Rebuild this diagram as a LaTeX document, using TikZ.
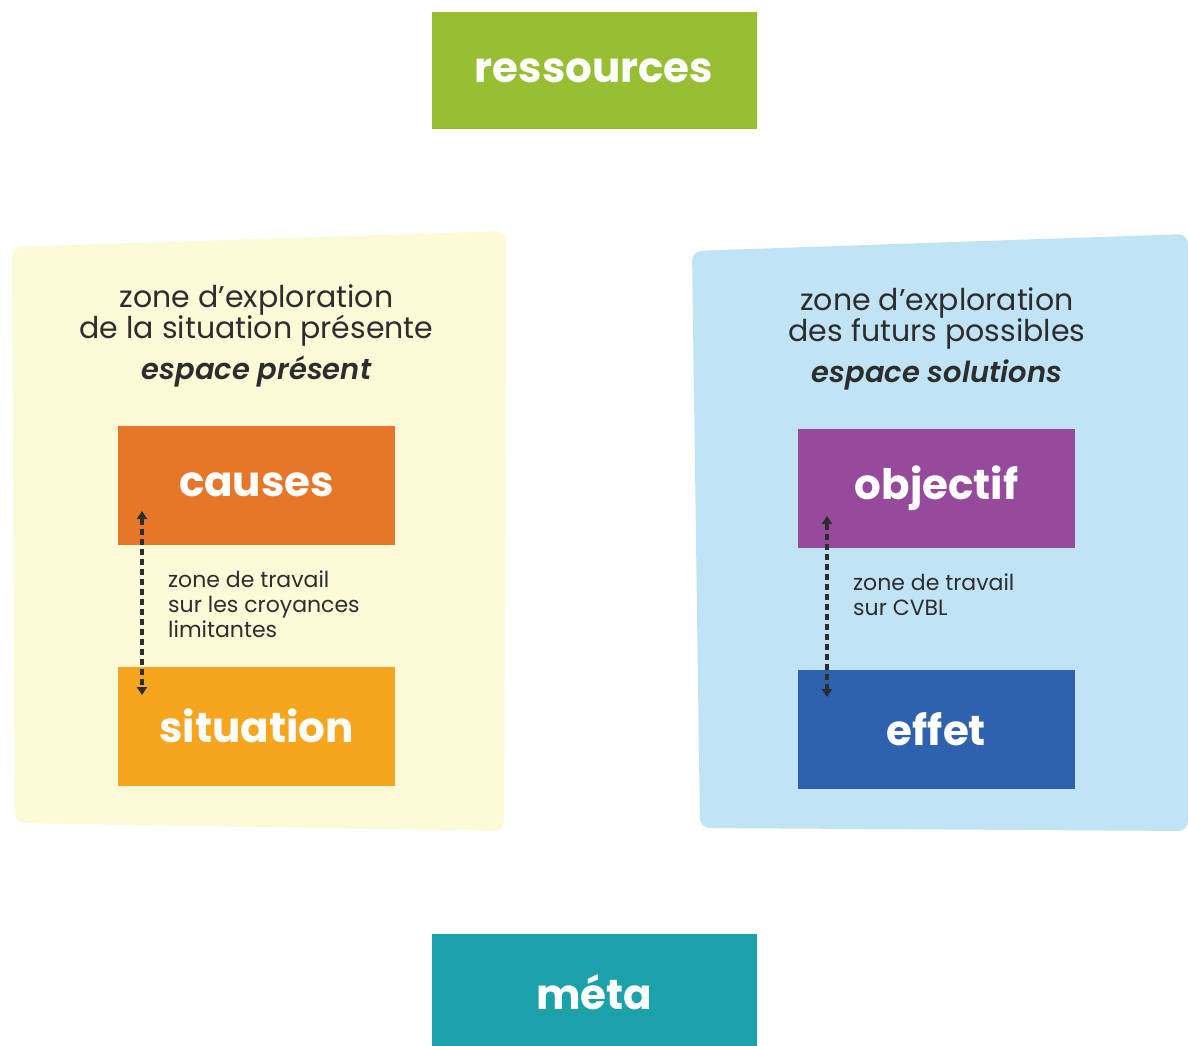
\documentclass[tikz,border=0pt]{standalone}
\usepackage{fontspec}
\setmainfont{Poppins}
\newfontfamily\semibi{Poppins SemiBold Italic}
\usetikzlibrary{arrows.meta}
\definecolor{resC}{RGB}{152,190,52}
\definecolor{metaC}{RGB}{28,160,170}
\definecolor{causesC}{RGB}{230,118,40}
\definecolor{sitC}{RGB}{245,166,30}
\definecolor{objC}{RGB}{150,74,155}
\definecolor{effC}{RGB}{46,98,175}
\definecolor{zoneY}{RGB}{253,250,216}
\definecolor{zoneB}{RGB}{192,227,246}
\definecolor{txtC}{RGB}{45,45,45}
\tikzset{
  box/.style={fill=#1, minimum width=277pt, minimum height=119pt, inner sep=0pt,
    text=white, font=\fontsize{42}{46}\selectfont\bfseries},
  topbox/.style={box=#1, minimum width=325pt, minimum height=117pt},
  head/.style={anchor=base, text=txtC, inner sep=0pt, font=\fontsize{30}{32}\selectfont},
  headb/.style={anchor=base, text=txtC, inner sep=0pt, font=\fontsize{29}{32}\selectfont\semibi},
  work/.style={anchor=base west, text=txtC, inner sep=0pt, font=\fontsize{22}{25}\selectfont},
  dotarrow/.style={draw=txtC, line width=3.4pt, dash pattern=on 6pt off 4pt,
    {Triangle[width=10pt,length=8pt]}-{Triangle[width=10pt,length=8pt]}}
}
\begin{document}
\begin{tikzpicture}[x=1pt,y=-1pt]
\useasboundingbox (0,0) rectangle (1188,1046);
\fill[white] (0,0) rectangle (1188,1046);
% zones
\fill[zoneY, rounded corners=10pt] (12,247) -- (506,231) -- (504,831) -- (15,823) -- cycle;
\fill[zoneB, rounded corners=10pt] (692,251) -- (1188,234) -- (1188,831) -- (700,828) -- cycle;
% top and bottom boxes
\node[topbox=resC] (res) at (594,71) {ressources};
\node[topbox=metaC] (meta) at (594,992) {méta};
% left zone texts
\node[head] (lz1) at (256.5,307) {zone d’exploration};
\node[head] (lz2) at (256.5,338) {de la situation présente};
\node[headb] (lz3) at (256.5,379) {espace présent};
% right zone texts
\node[head] (rz1) at (937,310) {zone d’exploration};
\node[head] (rz2) at (937,341) {des futurs possibles};
\node[headb] (rz3) at (937,382) {espace solutions};
% boxes
\node[box=causesC] (causes) at (256.5,485) {causes};
\node[box=sitC] (situation) at (256.5,726) {situation};
\node[box=objC] (objectif) at (936.5,488) {objectif};
\node[box=effC] (effet) at (936.5,729) {effet};
% work zone labels
\node[work, align=left] (lw) at (168,637) {zone de travail\\sur les croyances\\limitantes};
\node[work, align=left] (rw) at (853,615) {zone de travail\\sur CVBL};
% dotted arrows
\coordinate (la) at (142,511);
\coordinate (lb) at (142,695);
\coordinate (ra) at (827,516);
\coordinate (rb) at (827,697);
\draw[dotarrow] (la) -- (lb);
\draw[dotarrow] (ra) -- (rb);
\end{tikzpicture}
\end{document}
